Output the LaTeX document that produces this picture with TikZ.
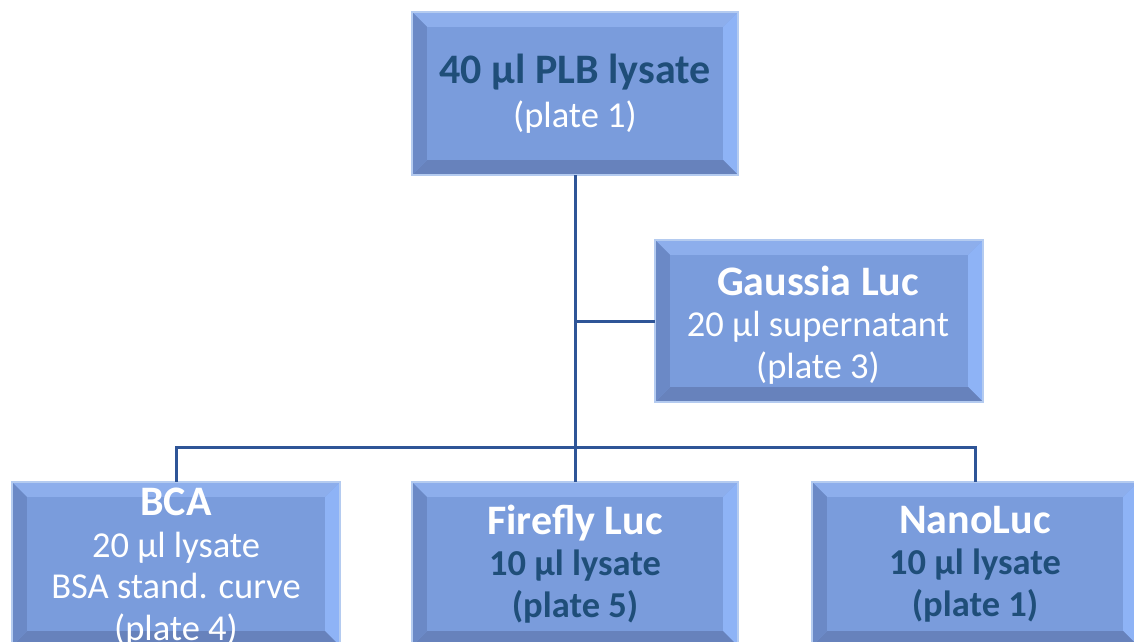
\documentclass[tikz,border=0pt]{standalone}
\usepackage{fontspec}
\setmainfont{Carlito}
\usetikzlibrary{calc,backgrounds}
\definecolor{face}{HTML}{7A9CDC}
\definecolor{bevtop}{HTML}{8DAEEC}
\definecolor{bevright}{HTML}{8EB3F6}
\definecolor{bevleft}{HTML}{6B89C6}
\definecolor{bevbot}{HTML}{6782BC}
\definecolor{rim}{HTML}{B4CBF0}
\definecolor{conncol}{HTML}{2F5597}
\definecolor{darktxt}{HTML}{1F4E79}
\newcommand\bv{15pt}
\newcommand\hd[1]{{\fontsize{42}{41}\selectfont\textbf{#1}}}
\newcommand\bevelbox[1]{%
\begin{pgfonlayer}{background}
\fill[face] (#1.north west) rectangle (#1.south east);
\fill[bevtop] (#1.north west) -- (#1.north east) -- ($(#1.north east)+(-\bv,-\bv)$) -- ($(#1.north west)+(\bv,-\bv)$) -- cycle;
\fill[bevright] (#1.north east) -- (#1.south east) -- ($(#1.south east)+(-\bv,\bv)$) -- ($(#1.north east)+(-\bv,-\bv)$) -- cycle;
\fill[bevbot] (#1.south east) -- (#1.south west) -- ($(#1.south west)+(\bv,\bv)$) -- ($(#1.south east)+(-\bv,\bv)$) -- cycle;
\fill[bevleft] (#1.south west) -- (#1.north west) -- ($(#1.north west)+(\bv,-\bv)$) -- ($(#1.south west)+(\bv,\bv)$) -- cycle;
\draw[rim,line width=1.5pt] (#1.north west) rectangle (#1.south east);
\end{pgfonlayer}}
\tikzset{
  box/.style={rectangle,inner sep=0pt,align=center,font=\fontsize{36.5}{41.5}\selectfont,text=white},
  conn/.style={draw=conncol,line width=3pt},
}
\begin{document}
\begin{tikzpicture}[x=1pt,y=-1pt]
\useasboundingbox (0,0) rectangle (1134,641);
\clip (0,0) rectangle (1134,641);
\node[box,minimum width=326pt,minimum height=163pt] (top) at (575,93.5)
  {\textcolor{darktxt}{\hd{40 µl PLB lysate}}\\[2pt](plate 1)};
\node[box,minimum width=328pt,minimum height=162pt] (gauss) at (819,321) {};
\node[box] (gausst) at (818,325)
  {\hd{Gaussia Luc}\\20 µl supernatant\\(plate 3)};
\node[box,minimum width=328pt,minimum height=164pt] (bca) at (176,564) {};
\node[box] (bcat) at (176,567)
  {\hd{BCA}\\20 µl lysate\\BSA stand. curve\\(plate 4)};
\node[box,minimum width=326pt,minimum height=164pt] (ff) at (575,564)
  {\hd{Firefly Luc}\\\textcolor{darktxt}{\textbf{10 µl lysate}}\\\textcolor{darktxt}{\textbf{(plate 5)}}};
\node[box,minimum width=326pt,minimum height=164pt] (nano) at (975,564)
  {\hd{NanoLuc}\\\textcolor{darktxt}{\textbf{10 µl lysate}}\\\textcolor{darktxt}{\textbf{(plate 1)}}};
\bevelbox{top}\bevelbox{gauss}\bevelbox{bca}\bevelbox{ff}\bevelbox{nano}
\coordinate (bus) at (575,447);
\draw[conn] (top.south) -- (ff.north);
\draw[conn] (gauss.west) -- (gauss.west -| top.south);
\draw[conn] (bca.north) -- (bca.north |- bus) -- (nano.north |- bus) -- (nano.north);
\end{tikzpicture}
\end{document}
